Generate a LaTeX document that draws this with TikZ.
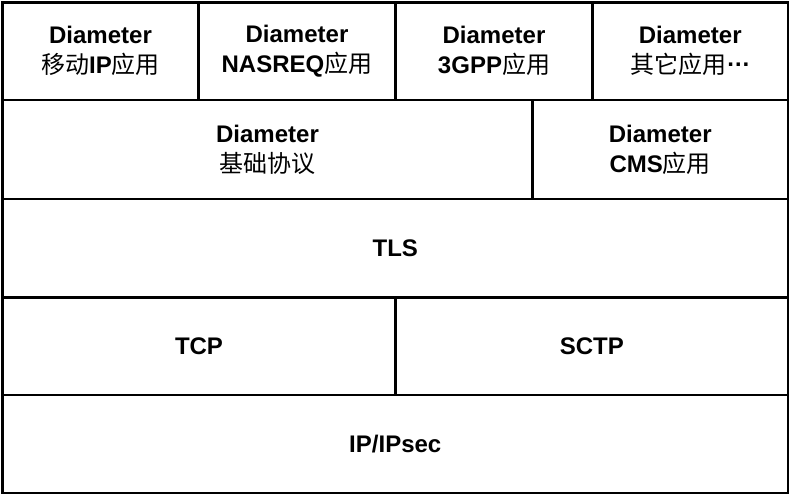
\documentclass[tikz,border=0pt]{standalone}
\usepackage{fontspec}
\setmainfont{Liberation Sans}
\newfontfamily\cjk{Noto Sans CJK SC}
\newcommand{\zh}[1]{{\cjk #1}}
\newcommand{\en}[1]{\textbf{#1}}
\newcommand{\middots}{\raisebox{0.32em}{\textbf{…}}}
\begin{document}
\begin{tikzpicture}[x=1pt,y=-1pt,
  cell/.style={draw=black, line width=2.2pt, rectangle, inner sep=0pt, align=center,
    font=\fontsize{24}{30}\selectfont}]
\useasboundingbox[fill=white] (0,0) rectangle (791,497);
% row 1
\node[cell, minimum width=196pt, minimum height=97.5pt] (mip) at (100.5,51.25) {\en{Diameter}\\\zh{移动}\en{IP}\zh{应用}};
\node[cell, minimum width=197pt, minimum height=97.5pt] (nas) at (297,51.25) {\en{Diameter}\\\en{NASREQ}\zh{应用}};
\node[cell, minimum width=197pt, minimum height=97.5pt] (gpp) at (494,51.25) {\en{Diameter}\\\en{3GPP}\zh{应用}};
\node[cell, minimum width=195.5pt, minimum height=97.5pt] (oth) at (690.25,51.25) {\en{Diameter}\\\zh{其它应用}\middots};
% row 2
\node[cell, minimum width=530pt, minimum height=99pt] (base) at (267.5,149.5) {\en{Diameter}\\\zh{基础协议}};
\node[cell, minimum width=255.5pt, minimum height=99pt] (cms) at (660.25,149.5) {\en{Diameter}\\\en{CMS}\zh{应用}};
% row 3
\node[cell, minimum width=785.5pt, minimum height=98.5pt] (tls) at (395.25,248.25) {\en{TLS}};
% row 4
\node[cell, minimum width=393pt, minimum height=97.5pt] (tcp) at (199,346.25) {\en{TCP}};
\node[cell, minimum width=392.5pt, minimum height=97.5pt] (sctp) at (591.75,346.25) {\en{SCTP}};
% row 5
\node[cell, minimum width=785.5pt, minimum height=98pt] (ip) at (395.25,444) {\en{IP/IPsec}};
\end{tikzpicture}
\end{document}
